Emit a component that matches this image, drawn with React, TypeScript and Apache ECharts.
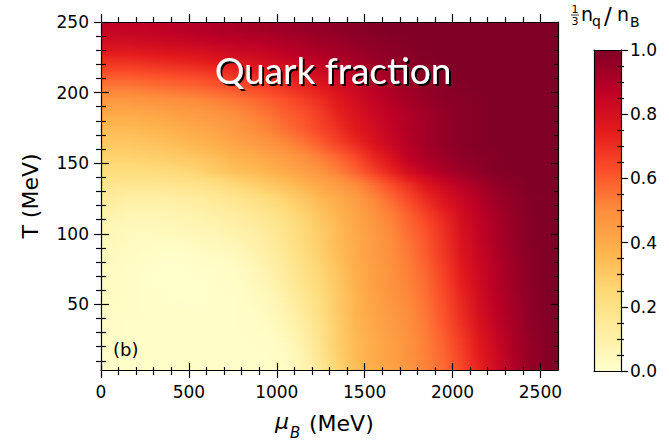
import React, { useEffect, useRef } from "react";
import * as echarts from "echarts";

// Sample centres of the (mu_B, T) grid, in MeV
const MU_CENTERS = [50, 150, 250, 350, 450, 550, 650, 750, 850, 950, 1050, 1150, 1250, 1350, 1450, 1550, 1650, 1750, 1850, 1950, 2050, 2150, 2250, 2350, 2450, 2550];
const T_CENTERS = [5, 15, 25, 35, 45, 55, 65, 75, 85, 95, 105, 115, 125, 135, 145, 155, 165, 175, 185, 195, 205, 215, 225, 235, 245];

// (1/3) n_q / n_B, one row per temperature, columns follow MU_CENTERS
const q005 = [0.01, 0.01, 0.01, 0.01, 0.01, 0.01, 0.01, 0.01, 0.01, 0.01, 0.02, 0.07, 0.16, 0.27, 0.34, 0.39, 0.43, 0.47, 0.52, 0.57, 0.64, 0.73, 0.82, 0.90, 0.96, 0.99];
const q015 = [0.01, 0.01, 0.01, 0.01, 0.01, 0.01, 0.01, 0.01, 0.01, 0.01, 0.03, 0.08, 0.18, 0.28, 0.35, 0.40, 0.44, 0.48, 0.53, 0.58, 0.66, 0.75, 0.83, 0.91, 0.96, 0.99];
const q025 = [0.02, 0.01, 0.01, 0.01, 0.01, 0.01, 0.01, 0.01, 0.01, 0.02, 0.04, 0.10, 0.19, 0.29, 0.35, 0.40, 0.44, 0.48, 0.53, 0.59, 0.67, 0.76, 0.84, 0.91, 0.96, 0.99];
const q035 = [0.02, 0.01, 0.01, 0.01, 0.01, 0.01, 0.01, 0.01, 0.02, 0.03, 0.06, 0.12, 0.20, 0.29, 0.36, 0.41, 0.45, 0.49, 0.54, 0.61, 0.69, 0.78, 0.86, 0.92, 0.97, 0.99];
const q045 = [0.02, 0.02, 0.01, 0.01, 0.01, 0.01, 0.01, 0.01, 0.02, 0.04, 0.08, 0.14, 0.22, 0.30, 0.37, 0.42, 0.46, 0.50, 0.55, 0.62, 0.71, 0.80, 0.87, 0.93, 0.97, 1.00];
const q055 = [0.03, 0.02, 0.01, 0.01, 0.00, 0.00, 0.01, 0.01, 0.03, 0.05, 0.10, 0.16, 0.23, 0.30, 0.37, 0.43, 0.47, 0.51, 0.56, 0.63, 0.72, 0.81, 0.88, 0.93, 0.97, 1.00];
const q065 = [0.03, 0.02, 0.01, 0.00, 0.00, 0.00, 0.01, 0.02, 0.04, 0.07, 0.12, 0.19, 0.25, 0.31, 0.38, 0.44, 0.48, 0.52, 0.57, 0.65, 0.74, 0.82, 0.89, 0.94, 0.98, 1.00];
const q075 = [0.03, 0.02, 0.01, 0.00, 0.00, 0.01, 0.01, 0.02, 0.05, 0.09, 0.14, 0.20, 0.26, 0.32, 0.39, 0.44, 0.48, 0.53, 0.58, 0.66, 0.75, 0.83, 0.89, 0.94, 0.98, 1.00];
const q085 = [0.04, 0.03, 0.02, 0.01, 0.01, 0.02, 0.03, 0.04, 0.07, 0.11, 0.16, 0.22, 0.28, 0.34, 0.40, 0.45, 0.49, 0.54, 0.60, 0.68, 0.77, 0.84, 0.90, 0.95, 0.98, 1.00];
const q095 = [0.05, 0.04, 0.03, 0.03, 0.03, 0.04, 0.05, 0.07, 0.09, 0.13, 0.18, 0.24, 0.29, 0.35, 0.40, 0.45, 0.50, 0.55, 0.61, 0.69, 0.78, 0.85, 0.91, 0.95, 0.99, 1.00];
const q105 = [0.06, 0.05, 0.04, 0.05, 0.06, 0.07, 0.08, 0.10, 0.12, 0.15, 0.19, 0.25, 0.30, 0.35, 0.41, 0.46, 0.51, 0.57, 0.63, 0.70, 0.79, 0.86, 0.91, 0.96, 0.99, 1.00];
const q115 = [0.09, 0.07, 0.07, 0.07, 0.08, 0.09, 0.11, 0.13, 0.15, 0.18, 0.22, 0.27, 0.32, 0.37, 0.42, 0.48, 0.53, 0.59, 0.66, 0.73, 0.81, 0.87, 0.92, 0.96, 0.99, 1.00];
const q125 = [0.13, 0.11, 0.11, 0.11, 0.12, 0.13, 0.15, 0.17, 0.20, 0.23, 0.27, 0.31, 0.36, 0.40, 0.45, 0.51, 0.57, 0.64, 0.71, 0.78, 0.84, 0.89, 0.94, 0.97, 0.99, 1.00];
const q135 = [0.18, 0.17, 0.17, 0.17, 0.18, 0.19, 0.21, 0.24, 0.27, 0.30, 0.33, 0.37, 0.41, 0.45, 0.50, 0.56, 0.63, 0.70, 0.77, 0.83, 0.88, 0.92, 0.96, 0.98, 1.00, 1.00];
const q145 = [0.23, 0.23, 0.23, 0.24, 0.25, 0.27, 0.30, 0.33, 0.35, 0.37, 0.40, 0.44, 0.48, 0.53, 0.59, 0.66, 0.73, 0.81, 0.87, 0.91, 0.94, 0.97, 0.99, 1.00, 1.00, 1.00];
const q155 = [0.27, 0.27, 0.28, 0.29, 0.30, 0.32, 0.34, 0.37, 0.39, 0.42, 0.45, 0.49, 0.53, 0.58, 0.64, 0.72, 0.79, 0.87, 0.91, 0.94, 0.97, 0.98, 0.99, 1.00, 1.00, 1.00];
const q165 = [0.31, 0.31, 0.32, 0.33, 0.35, 0.37, 0.39, 0.42, 0.45, 0.48, 0.51, 0.55, 0.60, 0.66, 0.72, 0.78, 0.84, 0.89, 0.93, 0.96, 0.98, 0.99, 1.00, 1.00, 1.00, 1.00];
const q175 = [0.35, 0.35, 0.36, 0.37, 0.39, 0.41, 0.43, 0.46, 0.49, 0.52, 0.56, 0.60, 0.65, 0.70, 0.76, 0.81, 0.86, 0.90, 0.93, 0.96, 0.98, 0.99, 1.00, 1.00, 1.00, 1.00];
const q185 = [0.40, 0.40, 0.41, 0.42, 0.44, 0.45, 0.47, 0.49, 0.52, 0.55, 0.59, 0.62, 0.67, 0.73, 0.78, 0.83, 0.87, 0.90, 0.93, 0.96, 0.98, 0.99, 1.00, 1.00, 1.00, 1.00];
const q195 = [0.46, 0.46, 0.47, 0.48, 0.49, 0.50, 0.52, 0.54, 0.56, 0.59, 0.62, 0.66, 0.70, 0.76, 0.81, 0.85, 0.89, 0.92, 0.95, 0.97, 0.98, 0.99, 1.00, 1.00, 1.00, 1.00];
const q205 = [0.54, 0.54, 0.55, 0.56, 0.57, 0.58, 0.60, 0.62, 0.64, 0.66, 0.69, 0.72, 0.76, 0.80, 0.84, 0.88, 0.91, 0.94, 0.96, 0.98, 0.99, 1.00, 1.00, 1.00, 1.00, 1.00];
const q215 = [0.63, 0.63, 0.64, 0.65, 0.66, 0.67, 0.69, 0.71, 0.73, 0.75, 0.77, 0.80, 0.83, 0.86, 0.89, 0.92, 0.94, 0.96, 0.98, 0.99, 1.00, 1.00, 1.00, 1.00, 1.00, 1.00];
const q225 = [0.72, 0.72, 0.73, 0.74, 0.75, 0.76, 0.78, 0.80, 0.81, 0.83, 0.85, 0.87, 0.89, 0.91, 0.93, 0.95, 0.97, 0.98, 0.99, 1.00, 1.00, 1.00, 1.00, 1.00, 1.00, 1.00];
const q235 = [0.80, 0.80, 0.81, 0.82, 0.83, 0.84, 0.85, 0.86, 0.87, 0.88, 0.90, 0.91, 0.93, 0.94, 0.96, 0.97, 0.98, 0.99, 1.00, 1.00, 1.00, 1.00, 1.00, 1.00, 1.00, 1.00];
const q245 = [0.85, 0.86, 0.86, 0.87, 0.88, 0.89, 0.90, 0.91, 0.92, 0.93, 0.94, 0.95, 0.96, 0.97, 0.98, 0.99, 1.00, 1.00, 1.00, 1.00, 1.00, 1.00, 1.00, 1.00, 1.00, 1.00];

const FRACTION_ROWS = [q005, q015, q025, q035, q045, q055, q065, q075, q085, q095, q105, q115, q125, q135, q145, q155, q165, q175, q185, q195, q205, q215, q225, q235, q245];

// Tick positions
const X_MAJOR = [0, 500, 1000, 1500, 2000, 2500];
const X_MINOR = [100, 200, 300, 400, 600, 700, 800, 900, 1100, 1200, 1300, 1400, 1600, 1700, 1800, 1900, 2100, 2200, 2300, 2400];
const Y_MAJOR = [50, 100, 150, 200, 250];
const Y_MINOR = [10, 20, 30, 40, 60, 70, 80, 90, 110, 120, 130, 140, 160, 170, 180, 190, 210, 220, 230, 240];
const CB_MAJOR = [0, 0.2, 0.4, 0.6, 0.8, 1.0];
const CB_MINOR = [0.05, 0.1, 0.15, 0.25, 0.3, 0.35, 0.45, 0.5, 0.55, 0.65, 0.7, 0.75, 0.85, 0.9, 0.95];

// matplotlib "YlOrRd"
const YLORRD = ["#ffffcc", "#ffeda0", "#fed976", "#feb24c", "#fd8d3c", "#fc4e2a", "#e31a1c", "#bd0026", "#800026"];

const MU_RANGE = [0, 2600];
const T_RANGE = [3.5, 250];

const FONT = "DejaVu Sans";
const INK = "#000";

const STOP_RGB = YLORRD.map((h) => [1, 3, 5].map((k) => parseInt(h.slice(k, k + 2), 16)));

// piecewise-linear colormap lookup, same scheme as the colour bar
function colorOf(v: number) {
  const n = STOP_RGB.length - 1;
  const t = Math.min(1, Math.max(0, v)) * n;
  const k = Math.min(n - 1, Math.floor(t));
  const f = t - k;
  const a = STOP_RGB[k];
  const b = STOP_RGB[k + 1];
  const c = a.map((x, i) => Math.round(x + (b[i] - x) * f));
  return `rgb(${c[0]},${c[1]},${c[2]})`;
}

function tickAxis(o: {
  grid: number; position: string; min: number; max: number;
  ticks?: number[]; inside?: boolean; length?: number;
  line?: boolean; labels?: number[]; labelFmt?: (v: number) => string;
  margin?: number; z?: number; extra?: any;
}) {
  return {
    type: "value",
    gridIndex: o.grid,
    position: o.position,
    min: o.min,
    max: o.max,
    z: o.z ?? 1,
    axisLine: { show: !!o.line, onZero: false, lineStyle: { color: INK, width: 1.2 } },
    axisTick: o.ticks
      ? { show: true, customValues: o.ticks, inside: !!o.inside, length: o.length ?? 5, lineStyle: { color: INK, width: 1.2 } }
      : { show: false },
    axisLabel: o.labels
      ? {
          show: true,
          customValues: o.labels,
          margin: o.margin ?? 10,
          color: INK,
          fontFamily: FONT,
          fontSize: 17,
          formatter: o.labelFmt ?? ((v: number) => String(v)),
        }
      : { show: false },
    splitLine: { show: false },
    minorTick: { show: false },
    ...(o.extra || {}),
  };
}

export default function App() {
  const ref = useRef<HTMLDivElement>(null);

  useEffect(() => {
    if (!ref.current) return;
    const chart = echarts.init(ref.current, undefined, { renderer: "svg" });

    const [xMin, xMax] = MU_RANGE;
    const [yMin, yMax] = T_RANGE;
    const lastRow = T_CENTERS.length - 1;

    // horizontal colour ramp through one row of samples
    const rowGradient = (vals: number[]) => ({
      type: "linear",
      x: 0, y: 0, x2: 1, y2: 0,
      colorStops: [
        { offset: 0, color: colorOf(vals[0]) },
        ...MU_CENTERS.map((m, j) => ({ offset: (m - xMin) / (xMax - xMin), color: colorOf(vals[j]) })),
        { offset: 1, color: colorOf(vals[vals.length - 1]) },
      ],
    });

    // one item per temperature row; each draws the band up to the next row
    const rows = T_CENTERS.map((t, i) => [t, i]);
    const SUB = 7;

    const renderRow = (params: any, api: any) => {
      const i = api.value(1);
      const t = api.value(0);
      const cs = params.coordSys;
      const left = api.coord([xMin, t])[0];
      const right = api.coord([xMax, t])[0];
      const children: any[] = [];
      // pixel-snapped strip, overlapping the strip below by one pixel
      const strip = (tLo: number, tHi: number, vals: number[]) => {
        const yTop = Math.max(cs.y, Math.round(api.coord([xMin, tHi])[1]));
        const yBot = Math.min(cs.y + cs.height, Math.round(api.coord([xMin, tLo])[1]) + 1);
        if (yBot <= yTop) return;
        children.push({
          type: "rect",
          shape: { x: left, y: yTop, width: right - left, height: yBot - yTop },
          style: { fill: rowGradient(vals) },
        });
      };
      const here = FRACTION_ROWS[i];
      if (i === 0) strip(yMin, t, here);
      if (i === lastRow) {
        strip(t, yMax, here);
      } else {
        const next = FRACTION_ROWS[i + 1];
        const tNext = T_CENTERS[i + 1];
        for (let s = 0; s < SUB; s++) {
          const f = (s + 0.5) / SUB;
          const blended = here.map((v, j) => v + (next[j] - v) * f);
          strip(t + ((tNext - t) * s) / SUB, t + ((tNext - t) * (s + 1)) / SUB, blended);
        }
      }
      return { type: "group", children };
    };

    const xAxis = [
      tickAxis({ grid: 0, position: "bottom", min: xMin, max: xMax, ticks: X_MAJOR, length: 8, line: true, labels: X_MAJOR, margin: 13, z: 10 }),
      tickAxis({ grid: 0, position: "bottom", min: xMin, max: xMax, ticks: X_MAJOR, inside: true, length: 7, z: 10 }),
      tickAxis({ grid: 0, position: "bottom", min: xMin, max: xMax, ticks: X_MINOR, length: 5 }),
      tickAxis({ grid: 0, position: "bottom", min: xMin, max: xMax, ticks: X_MINOR, inside: true, length: 3, z: 10 }),
      tickAxis({ grid: 0, position: "top", min: xMin, max: xMax, ticks: X_MAJOR, length: 8, line: true, z: 10 }),
      tickAxis({ grid: 0, position: "top", min: xMin, max: xMax, ticks: X_MINOR, length: 5 }),
      tickAxis({ grid: 1, position: "bottom", min: 0, max: 1, line: true, z: 10 }),
      tickAxis({ grid: 1, position: "top", min: 0, max: 1, line: true, z: 10 }),
    ];

    const yAxis = [
      tickAxis({
        grid: 0, position: "left", min: yMin, max: yMax, ticks: Y_MAJOR, length: 7, line: true, labels: Y_MAJOR, margin: 12, z: 10,
        extra: {
          name: "T (MeV)",
          nameLocation: "middle",
          nameGap: 60,
          nameTextStyle: { color: INK, fontFamily: FONT, fontSize: 22 },
        },
      }),
      tickAxis({ grid: 0, position: "left", min: yMin, max: yMax, ticks: Y_MAJOR, inside: true, length: 8, z: 10 }),
      tickAxis({ grid: 0, position: "left", min: yMin, max: yMax, ticks: Y_MINOR, length: 5 }),
      tickAxis({ grid: 0, position: "left", min: yMin, max: yMax, ticks: Y_MINOR, inside: true, length: 5, z: 10 }),
      tickAxis({ grid: 0, position: "right", min: yMin, max: yMax, ticks: Y_MAJOR, inside: true, length: 7, line: true, z: 10 }),
      tickAxis({ grid: 0, position: "right", min: yMin, max: yMax, ticks: Y_MINOR, inside: true, length: 4, z: 10 }),
      tickAxis({ grid: 1, position: "right", min: 0, max: 1, ticks: CB_MAJOR, length: 7, line: true, labels: CB_MAJOR, margin: 9, z: 10, labelFmt: (v: number) => v.toFixed(1) }),
      tickAxis({ grid: 1, position: "right", min: 0, max: 1, ticks: CB_MINOR, inside: true, length: 4, z: 10 }),
      tickAxis({ grid: 1, position: "right", min: 0, max: 1, ticks: CB_MINOR, length: 3, z: 10 }),
      tickAxis({ grid: 1, position: "left", min: 0, max: 1, line: true, z: 10 }),
    ];

    chart.setOption({
      animation: false,
      backgroundColor: "#fff",
      grid: [
        { left: 101, top: 22, width: 457, height: 348 },
        { left: 594, top: 50, width: 27, height: 321 },
      ],
      xAxis,
      yAxis,
      // colour bar
      visualMap: {
        type: "continuous",
        min: 0,
        max: 1,
        seriesIndex: [],
        calculable: false,
        inRange: { color: YLORRD },
        orient: "vertical",
        left: 594,
        top: 50,
        itemWidth: 27,
        itemHeight: 321,
        padding: 0,
        text: ["", ""],
        textGap: 0,
      },
      series: [
        {
          type: "custom",
          xAxisIndex: 0,
          yAxisIndex: 0,
          encode: { x: -1, y: 0 },
          data: rows,
          renderItem: renderRow,
        },
      ],
      graphic: [
        // panel title with a hard black drop shadow
        {
          type: "text", x: 333, y: 69, z: 21,
          style: {
            text: "Quark fraction", fill: "#fff", font: "37px Lato", textAlign: "center", textVerticalAlign: "middle",
            textShadowColor: "#000", textShadowOffsetX: 2, textShadowOffsetY: 2, textShadowBlur: 0.01,
          },
        },
        // panel tag
        { type: "text", x: 113, y: 349, z: 20, style: { text: "(b)", fill: INK, font: `18px "${FONT}"`, textAlign: "left", textVerticalAlign: "middle" } },
        // x-axis title: mu_B (MeV)
        { type: "text", x: 275, y: 432, z: 20, style: { text: "μ", fill: INK, font: `italic 22px "${FONT}"`, textAlign: "left", textVerticalAlign: "bottom" } },
        { type: "text", x: 290, y: 440, z: 20, style: { text: "B", fill: INK, font: `italic 15px "${FONT}"`, textAlign: "left", textVerticalAlign: "bottom" } },
        { type: "text", x: 309, y: 434, z: 20, style: { text: "(MeV)", fill: INK, font: `22px "${FONT}"`, textAlign: "left", textVerticalAlign: "bottom" } },
        // colour-bar title: (1/3) n_q / n_B
        { type: "text", x: 575, y: 9, z: 20, style: { text: "1", fill: INK, font: `11px "${FONT}"`, textAlign: "center", textVerticalAlign: "middle" } },
        { type: "line", z: 20, shape: { x1: 571, y1: 15, x2: 579, y2: 15 }, style: { stroke: INK, lineWidth: 0.8 } },
        { type: "text", x: 575, y: 21, z: 20, style: { text: "3", fill: INK, font: `11px "${FONT}"`, textAlign: "center", textVerticalAlign: "middle" } },
        { type: "text", x: 581, y: 23, z: 20, style: { text: "n", fill: INK, font: `19px "${FONT}"`, textAlign: "left", textVerticalAlign: "bottom" } },
        { type: "text", x: 592, y: 28, z: 20, style: { text: "q", fill: INK, font: `14px "${FONT}"`, textAlign: "left", textVerticalAlign: "bottom" } },
        { type: "text", x: 604, y: 27, z: 20, style: { text: "/", fill: INK, font: `23px "${FONT}"`, textAlign: "left", textVerticalAlign: "bottom" } },
        { type: "text", x: 617, y: 23, z: 20, style: { text: "n", fill: INK, font: `19px "${FONT}"`, textAlign: "left", textVerticalAlign: "bottom" } },
        { type: "text", x: 630, y: 29, z: 20, style: { text: "B", fill: INK, font: `14px "${FONT}"`, textAlign: "left", textVerticalAlign: "bottom" } },
      ],
    });

    return () => chart.dispose();
  }, []);

  return (
    <div
      ref={ref}
      style={{ position: "fixed", left: 0, top: 0, width: 669, height: 441, background: "#fff" }}
    />
  );
}
